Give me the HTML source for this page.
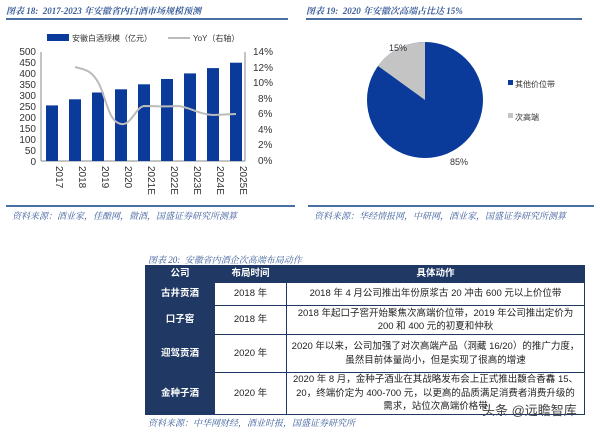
<!DOCTYPE html>
<html><head><meta charset="utf-8"><style>
body{margin:0;width:600px;height:432px;background:#fff;overflow:hidden;position:relative;font-family:"Liberation Sans","Noto Sans CJK SC",sans-serif;}
.t{position:absolute;font-style:italic;color:#3b5d9a;font-size:9px;font-family:"Liberation Serif","Noto Serif CJK SC",serif;}
table{position:absolute;left:145px;top:265px;width:440px;border-collapse:collapse;font-size:9.5px;font-family:"Liberation Sans","Noto Sans CJK SC",sans-serif;}
td,th{border:1px solid #1f3864;text-align:center;padding:0;line-height:13.5px;color:#222;}
th{background:#1f3864;color:#fff;height:16px;}
td.c{background:#1f3864;color:#fff;font-weight:bold;}
</style></head><body>
<div class="t" style="left:6px;top:4px;font-weight:bold">图表 18:&nbsp; 2017-2023 年安徽省内白酒市场规模预测</div>
<div style="position:absolute;left:6px;top:18px;width:282px;height:2px;background:#4a6fa5"></div>
<div class="t" style="left:306px;top:4px;font-weight:bold">图表 19:&nbsp; 2020 年安徽次高端占比达 15%</div>
<div style="position:absolute;left:306px;top:18px;width:276px;height:2px;background:#4a6fa5"></div>
<div style="position:absolute;left:6px;top:205px;width:289px;height:2px;background:#4a6fa5"></div>
<div style="position:absolute;left:308px;top:205px;width:286px;height:2px;background:#4a6fa5"></div>
<div class="t" style="left:12px;top:209px">资料来源：酒业家，佳酿网，微酒，国盛证券研究所测算</div>
<div class="t" style="left:314px;top:209px">资料来源：华经情报网，中研网，酒业家，国盛证券研究所测算</div>

<svg style="position:absolute;left:0;top:0" width="600" height="250" font-family="Liberation Sans" font-size="10" fill="#333">
<rect x="47" y="34" width="22" height="7" fill="#0a3a9a"/>
<text x="72" y="41" font-size="8">安徽白酒规模（亿元）</text>
<line x1="168" y1="38" x2="190" y2="38" stroke="#bbb" stroke-width="2"/>
<text x="193" y="41" font-size="8">YoY（右轴）</text>
<g text-anchor="end">
<text x="36" y="55">500</text><text x="36" y="66">450</text><text x="36" y="77">400</text><text x="36" y="88">350</text><text x="36" y="99">300</text><text x="36" y="110">250</text><text x="36" y="121">200</text><text x="36" y="132">150</text><text x="36" y="143">100</text><text x="36" y="154">50</text><text x="36" y="165">0</text>
</g>
<line x1="41" y1="52" x2="41" y2="161" stroke="#888"/>
<line x1="41" y1="161" x2="245" y2="161" stroke="#888"/>
<line x1="245" y1="52" x2="245" y2="161" stroke="#888"/>
<g text-anchor="start">
<text x="253" y="55">14%</text><text x="253" y="71">12%</text><text x="253" y="86">10%</text><text x="258" y="102">8%</text><text x="258" y="117">6%</text><text x="258" y="133">4%</text><text x="258" y="148">2%</text><text x="258" y="164">0%</text>
</g>
<g fill="#0a3a9a">
<rect x="46" y="105.4" width="12" height="55.6"/>
<rect x="69" y="99.3" width="12" height="61.7"/>
<rect x="92" y="92.5" width="12" height="68.5"/>
<rect x="115" y="89.3" width="12" height="71.7"/>
<rect x="138" y="84.3" width="12" height="76.7"/>
<rect x="161" y="79" width="12" height="82"/>
<rect x="184" y="73.4" width="12" height="87.6"/>
<rect x="207" y="68.1" width="12" height="92.9"/>
<rect x="230" y="62.7" width="12" height="98.3"/>
</g>
<path d="M75,67 C88,70 92,72 98,82 C106,96 108,122 121,124 C131,126 136,107 144,106 C156,106 165,107 178,106 C190,107 197,114 213,115 L236,114" fill="none" stroke="#bbb" stroke-width="2"/>
<g font-size="10" fill="#333">
<text transform="translate(56,166) rotate(90)">2017</text>
<text transform="translate(79,166) rotate(90)">2018</text>
<text transform="translate(102,166) rotate(90)">2019</text>
<text transform="translate(125,166) rotate(90)">2020</text>
<text transform="translate(148,166) rotate(90)">2021E</text>
<text transform="translate(171,166) rotate(90)">2022E</text>
<text transform="translate(194,166) rotate(90)">2023E</text>
<text transform="translate(217,166) rotate(90)">2024E</text>
<text transform="translate(240,166) rotate(90)">2025E</text>
</g>
<circle cx="425" cy="100" r="58" fill="#0a3a9a"/>
<path d="M425,100 L425,42 A58,58 0 0,0 378,66 Z" fill="#c4c4c4"/>
<text x="389" y="51" font-size="9">15%</text>
<text x="450" y="165" font-size="9">85%</text>
<rect x="508" y="80" width="5" height="5" fill="#0a3a9a"/>
<text x="515" y="87" font-size="8">其他价位带</text>
<rect x="508" y="113" width="5" height="5" fill="#c4c4c4"/>
<text x="515" y="120" font-size="8">次高端</text>
</svg>

<div class="t" style="left:148px;top:253px">图表 20:&nbsp; 安徽省内酒企次高端布局动作</div>
<table>
<tr><th style="width:68px">公司</th><th style="width:71px">布局时间</th><th>具体动作</th></tr>
<tr style="height:23px"><td class="c">古井贡酒</td><td>2018 年</td><td>2018 年 4 月公司推出年份原浆古 20 冲击 600 元以上价位带</td></tr>
<tr style="height:29px"><td class="c">口子窖</td><td>2018 年</td><td>2018 年起口子窖开始聚焦次高端价位带，2019 年公司推出定价为<br>200 和 400 元的初夏和仲秋</td></tr>
<tr style="height:38px"><td class="c">迎驾贡酒</td><td>2020 年</td><td>2020 年以来，公司加强了对次高端产品（洞藏 16/20）的推广力度，<br>虽然目前体量尚小，但是实现了很高的增速</td></tr>
<tr style="height:40px"><td class="c">金种子酒</td><td>2020 年</td><td>2020 年 8 月，金种子酒业在其战略发布会上正式推出馥合香馫 15、<br>20，终端价定为 400-700 元，以更高的品质满足消费者消费升级的<br>需求，站位次高端价格带</td></tr>
</table>
<div class="t" style="left:148px;top:416px">资料来源：中华网财经，酒业时报，国盛证券研究所</div>
<div style="position:absolute;left:482px;top:400px;font-size:13px;color:#444;">头条 @远瞻智库</div>
</body></html>
